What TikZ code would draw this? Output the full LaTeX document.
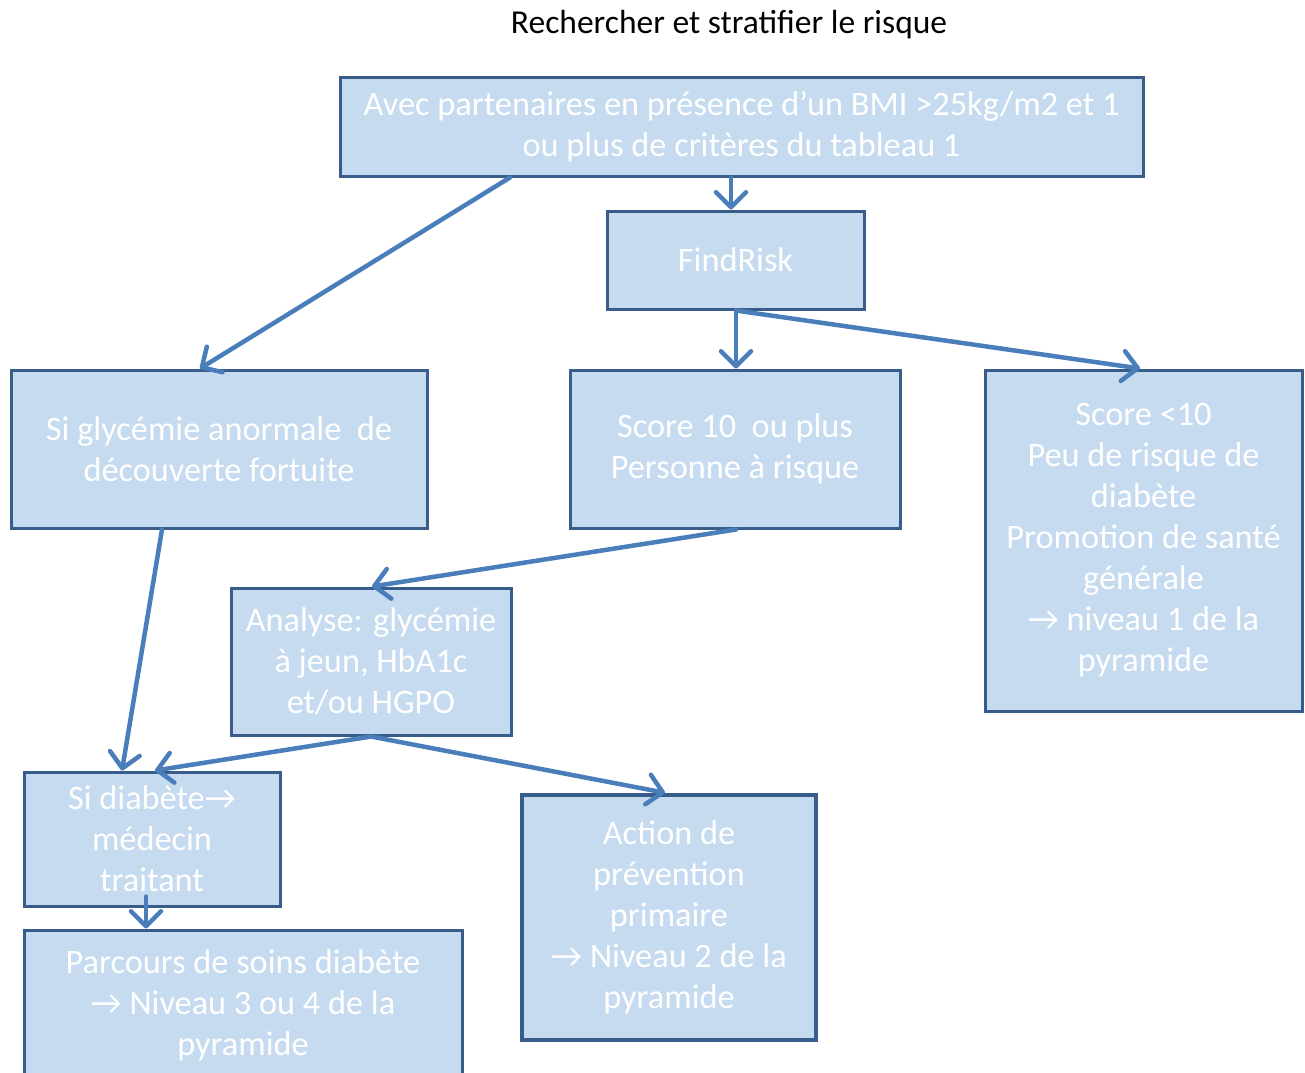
\documentclass[tikz,border=0pt]{standalone}
\usepackage{fontspec}
\setmainfont{Carlito}
\usetikzlibrary{arrows.meta}
\definecolor{boxfill}{HTML}{C6DBEF}
\definecolor{boxline}{HTML}{385D8A}
\definecolor{arrowblue}{HTML}{4A7EBB}

\begin{document}
\begin{tikzpicture}[x=1pt,y=-1pt]
      \useasboundingbox (0,0) rectangle (1305,1072);
      \clip (0,0) rectangle (1305,1072);

      \node (0) at (729,25) {\fontsize{33.5}{40}\selectfont Rechercher et stratifier le risque};

      \begin{scope}[every node/.style={rectangle, draw=boxline, line width=3pt, fill=boxfill,
          text=white, align=center, inner sep=0pt, font=\fontsize{34.3}{41}\selectfont}]
        \node[minimum width=803, minimum height=99]  (1) at (741.5,126.5) {Avec partenaires en présence d’un BMI >25kg/m2 et 1\\ou plus de critères du tableau 1};
        \node[minimum width=257, minimum height=98]  (2) at (735.5,260)   {FindRisk};
        \node[minimum width=416, minimum height=158] (3) at (219,449)     {Si glycémie anormale\ \ de\\découverte fortuite};
        \node[minimum width=330, minimum height=158] (4) at (735,449)     {Score 10\ \ ou plus\\Personne à risque};
        \node[minimum width=317, minimum height=341] (5) at (1143.5,540.5) {Score <10\\Peu de risque de\\diabète\\Promotion de santé\\générale\\→ niveau 1 de la\\pyramide};
        \node[minimum width=280, minimum height=147] (6) at (371,661.5)   {Analyse: glycémie\\à jeun, HbA1c\\et/ou HGPO};
        \node[minimum width=256, minimum height=134] (7) at (152,839)     {Si diabète→\\médecin\\traitant};
        \node[minimum width=294, minimum height=245, line width=4.5pt] (8) at (669,917.5) {Action de\\prévention\\primaire\\→ Niveau 2 de la\\pyramide};
        \node[minimum width=438, minimum height=150] (9) at (243,1005)    {Parcours de soins diabète\\→ Niveau 3 ou 4 de la\\pyramide};
      \end{scope}

      \begin{scope}[every edge/.style={draw=arrowblue, line width=4.5pt, line cap=round,
          -{Straight Barb[length=15pt, width=30pt, round]}}]
        \path ([xshift=-231.5]1.south) edge ([xshift=-19]3.north);
        \path ([xshift=-10.5]1.south)  edge ([xshift=-4.5]2.north);
        \path ([xshift=0.5]2.south)    edge ([xshift=1]4.north);
        \path ([xshift=0.5]2.south)    edge ([xshift=-3.5]5.north);
        \path ([xshift=-57]3.south)    edge ([xshift=-30]7.north);
        \path ([xshift=1]4.south)      edge ([xshift=1]6.north);
        \path (6.south)                edge ([xshift=3]7.north);
        \path (6.south)                edge ([xshift=-4]8.north);
        \path ([xshift=-6,yshift=11]7.south) edge ([xshift=-97]9.north);
      \end{scope}

    \end{tikzpicture}
\end{document}
